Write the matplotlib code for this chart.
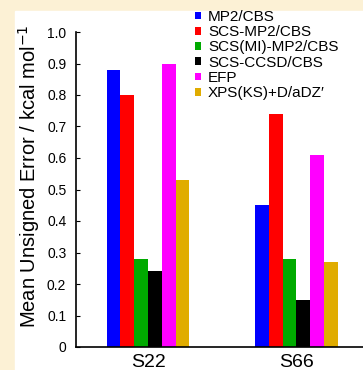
import matplotlib.pyplot as plt
import numpy as np

plt.rcParams['font.family'] = ['Liberation Sans', 'DejaVu Sans']

groups = ["S22", "S66"]
methods = ["MP2/CBS", "SCS-MP2/CBS", "SCS(MI)-MP2/CBS", "SCS-CCSD/CBS", "EFP",
           "XPS(KS)+D/aDZ\u2032"]
s22 = [0.88, 0.80, 0.28, 0.24, 0.90, 0.53]
s66 = [0.45, 0.74, 0.28, 0.15, 0.61, 0.27]
colors = ["#0000FF", "#FF0000", "#00AA00", "#000000", "#FF00FF", "#E0AC00"]

fig = plt.figure(figsize=(3.63, 3.70), dpi=100)
fig.patch.set_facecolor("#FCF1D5")
# white panel behind everything
fig.patches.append(plt.Rectangle((15 / 363, 0), 1, 1 - 11 / 370,
                                 transform=fig.transFigure, color="white", zorder=-10))

ax = fig.add_axes([76 / 363, 23 / 370, 1 - 76 / 363, 315 / 370])
ax.set_facecolor("none")

x = np.arange(1, len(groups) + 1)
w = 0.093
vals = np.array([s22, s66])
for i, (m, c) in enumerate(zip(methods, colors)):
    ax.bar(x + (i - 2.5) * w, vals[:, i], width=w, color=c, label=m, linewidth=0)

ax.set_xlim(0.514, 2.45)
ax.set_ylim(0, 1.0)
ax.set_yticks(np.arange(0, 1.01, 0.1))
ax.set_yticklabels(["0"] + [f"{v:.1f}" for v in np.arange(0.1, 1.01, 0.1)], fontsize=10)
ax.set_xticks(x)
ax.set_xticklabels(groups, fontsize=14)
ax.tick_params(axis="y", direction="in", length=3, width=0.8, pad=7)
ax.tick_params(axis="x", length=0, pad=5)
for s in ["top", "right"]:
    ax.spines[s].set_visible(False)
ax.spines["left"].set_linewidth(1.2)
ax.spines["bottom"].set_linewidth(1.2)

fig.text(29 / 363, 1 - 176 / 370, "Mean Unsigned Error / kcal mol$^{-1}$",
         rotation=90, ha="center", va="center", fontsize=14.5)

ax.legend(loc="upper left", bbox_to_anchor=(195 / 363, 1 - 10 / 370),
          bbox_transform=fig.transFigure, frameon=False, fontsize=11,
          handlelength=0.4, handleheight=0.4, handletextpad=0.45,
          labelspacing=0.08, borderaxespad=0, borderpad=0)

fig.savefig("out.png", dpi=100, facecolor=fig.get_facecolor())
